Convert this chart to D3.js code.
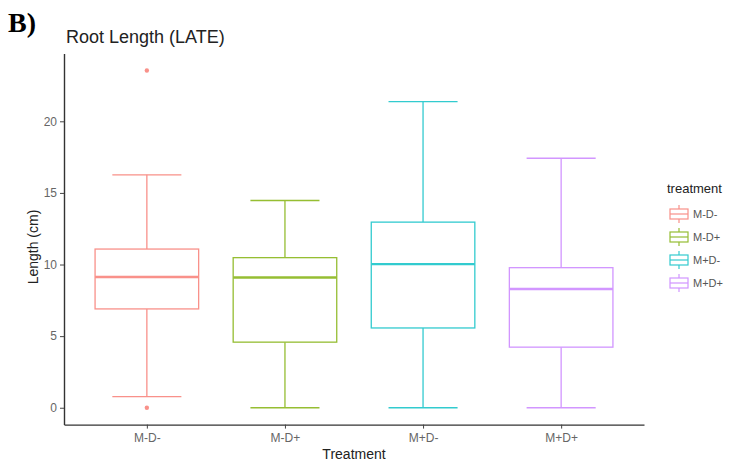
<!DOCTYPE html>
<html>
<head>
<meta charset="utf-8">
<script src="https://cdn.jsdelivr.net/npm/d3@7"></script>
<style>
  body { margin: 0; background: #fff; }
  text { font-family: "Liberation Sans", Arial, sans-serif; }
</style>
</head>
<body>
<script>

const treatments = ["M-D-", "M-D+", "M+D-", "M+D+"];
const whiskerLow = [0.77, 0, 0, 0];
const q1 = [6.9, 4.58, 5.57, 4.23];
const median = [9.13, 9.09, 10.03, 8.29];
const q3 = [11.08, 10.48, 12.96, 9.78];
const whiskerHigh = [16.26, 14.47, 21.37, 17.42];
const outliers = [[23.55, 0], [], [], []];
const colors = ["#F8766D", "#7CAE00", "#00BFC4", "#C77CFF"];
const yTicks = [0, 5, 10, 15, 20];

const width = 733, height = 465;
const plotLeft = 64, plotRight = 644, plotTop = 53.6, plotBottom = 424.6;

const svg = d3.select("body").append("svg")
    .attr("width", width)
    .attr("height", height);

const boxes = treatments.map((t, i) => ({
    t: t, lo: whiskerLow[i], q1: q1[i], med: median[i], q3: q3[i], hi: whiskerHigh[i],
    out: outliers[i], color: colors[i]
}));

// ggplot style scales with expansion
const yMin = 0, yMax = 23.55;
const yPad = (yMax - yMin) * 0.05;
const y = d3.scaleLinear().domain([yMin - yPad, yMax + yPad]).range([plotBottom, plotTop]);
const x = d3.scalePoint().domain(treatments).range([plotLeft, plotRight]).padding(0.6);
const step = x.step();

// boxes
const g = svg.append("g").attr("fill", "none").attr("stroke-width", 1.3).attr("opacity", 0.8);

boxes.forEach(d => {
    const cx = x(d.t);
    const gb = g.append("g").attr("stroke", d.color);
    gb.append("line").attr("x1", cx).attr("x2", cx).attr("y1", y(d.hi)).attr("y2", y(d.q3));
    gb.append("line").attr("x1", cx).attr("x2", cx).attr("y1", y(d.q1)).attr("y2", y(d.lo));
    gb.append("line").attr("x1", cx - step * 0.25).attr("x2", cx + step * 0.25).attr("y1", y(d.hi)).attr("y2", y(d.hi));
    gb.append("line").attr("x1", cx - step * 0.25).attr("x2", cx + step * 0.25).attr("y1", y(d.lo)).attr("y2", y(d.lo));
    gb.append("rect")
        .attr("x", cx - step * 0.375).attr("width", step * 0.75)
        .attr("y", y(d.q3)).attr("height", y(d.q1) - y(d.q3))
        .attr("fill", "#fff");
    gb.append("line").attr("x1", cx - step * 0.375).attr("x2", cx + step * 0.375)
        .attr("y1", y(d.med)).attr("y2", y(d.med)).attr("stroke-width", 2.4);
    gb.selectAll("circle").data(d.out).enter().append("circle")
        .attr("cx", cx).attr("cy", v => y(v)).attr("r", 2.2)
        .attr("fill", d.color).attr("stroke", "none");
});

// axes
const yAxis = svg.append("g")
    .attr("transform", `translate(${plotLeft},0)`)
    .call(d3.axisLeft(y).tickValues(yTicks).tickSize(4).tickSizeOuter(0).tickPadding(3));
const xAxis = svg.append("g")
    .attr("transform", `translate(0,${plotBottom})`)
    .call(d3.axisBottom(x).tickSize(4).tickSizeOuter(0).tickPadding(5));

[yAxis, xAxis].forEach(a => {
    a.select(".domain").attr("stroke", "#333").attr("stroke-width", 1.4);
    a.selectAll(".tick line").attr("stroke", "#444");
    a.selectAll(".tick text").attr("fill", "#666").style("font-size", "12px");
});

// titles
svg.append("text").attr("x", 8).attr("y", 32)
    .style("font-family", "'Liberation Serif', 'Times New Roman', serif")
    .style("font-weight", "bold").style("font-size", "28px")
    .text("B)");

svg.append("text").attr("x", 66).attr("y", 43)
    .attr("fill", "#222").style("font-size", "18px")
    .text("Root Length (LATE)");

svg.append("text").attr("x", (plotLeft + plotRight) / 2).attr("y", 459)
    .attr("text-anchor", "middle").attr("fill", "#222").style("font-size", "14px")
    .text("Treatment");

svg.append("text")
    .attr("transform", "translate(38,247) rotate(-90)")
    .attr("text-anchor", "middle").attr("fill", "#222").style("font-size", "14px")
    .text("Length (cm)");

// legend
const legend = svg.append("g").attr("transform", "translate(668,0)");
legend.append("text").attr("x", -1).attr("y", 193)
    .attr("fill", "#222").style("font-size", "13px").text("treatment");

const keyY = d3.scalePoint().domain(treatments).range([214, 283]);
boxes.forEach(d => {
    const ky = keyY(d.t);
    const k = legend.append("g").attr("stroke", d.color).attr("fill", "#fff").attr("opacity", 0.8).attr("stroke-width", 1.2);
    k.append("line").attr("x1", 11).attr("x2", 11).attr("y1", ky - 9).attr("y2", ky + 9);
    k.append("rect").attr("x", 2).attr("y", ky - 5).attr("width", 18).attr("height", 10);
    k.append("line").attr("x1", 2).attr("x2", 20).attr("y1", ky).attr("y2", ky);
    legend.append("text").attr("x", 25).attr("y", ky + 4)
        .attr("fill", "#555").style("font-size", "11px").text(d.t);
});

</script>
</body>
</html>
